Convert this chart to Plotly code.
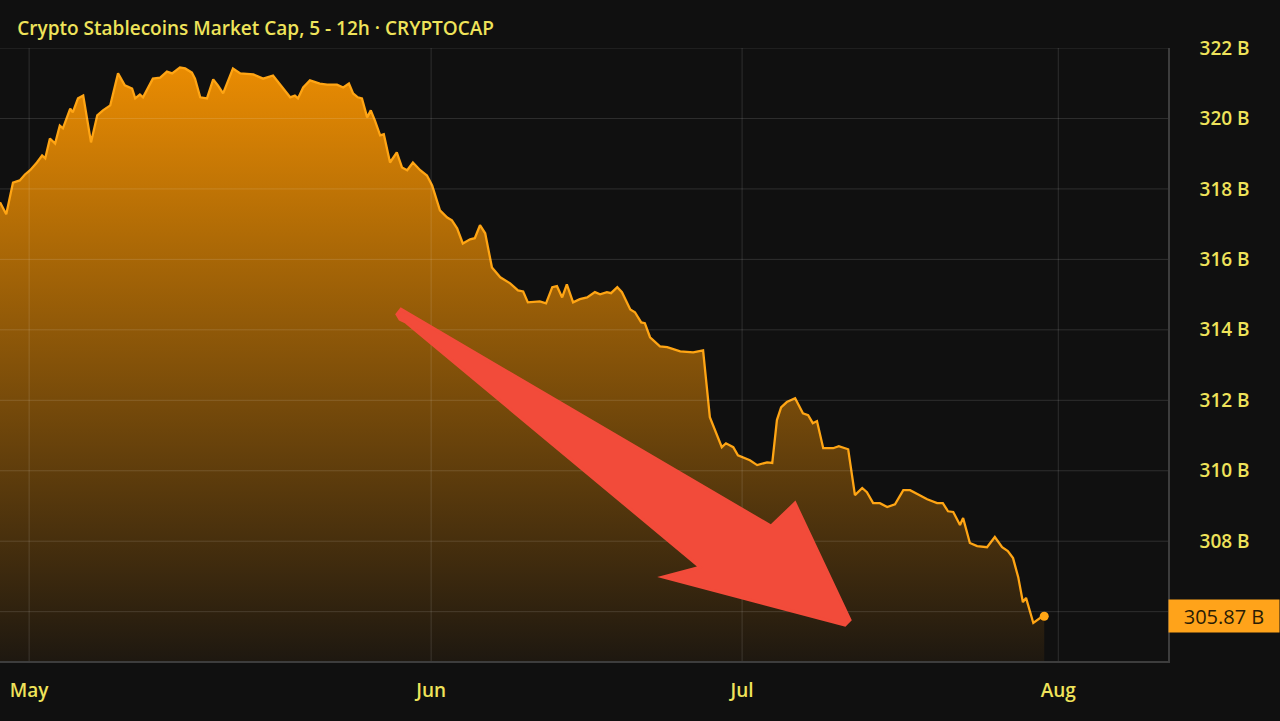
import plotly.graph_objects as go

# ---------------- data ----------------
bar_index = [0, 1.2, 2.5, 3.8, 4.8, 5.8, 7.1, 8.1, 8.7, 9.6,
             10.6, 11.5, 12.1, 13.5, 14.0, 15.0, 16.0, 16.3, 17.5, 18.7,
             19.8, 21.2, 22.7, 24.0, 25.4, 26.0, 26.9, 27.5, 29.4, 30.8,
             32.1, 33.1, 34.6, 35.6, 36.9, 37.5, 38.5, 39.8, 41.0, 41.9,
             42.9, 44.8, 46.2, 48.7, 50.6, 52.5, 54.4, 55.8, 56.7, 57.3,
             58.3, 59.6, 61.5, 62.9, 64.8, 66.0, 67.1, 67.9, 68.8, 69.6,
             70.6, 71.3, 72.1, 73.1, 73.8, 75.0, 76.3, 77.3, 78.3, 79.4,
             80.8, 82.1, 83.1, 84.6, 86.0, 86.9, 87.9, 89.0, 90.4, 91.3,
             92.3, 93.3, 94.6, 96.2, 98.1, 99.6, 100.6, 101.5, 103.8, 105.0,
             106.2, 107.1, 108.1, 109.0, 110.2, 111.5, 112.9, 114.4, 115.4, 116.7,
             117.5, 118.7, 119.6, 121.2, 122.1, 123.3, 124.0, 125.0, 126.9, 128.3,
             130.8, 133.3, 135.2, 135.6, 136.5, 138.8, 139.6, 141.0, 141.9, 144.2,
             145.6, 147.5, 148.5, 149.4, 150.2, 151.3, 152.9, 154.4, 155.4, 156.3,
             157.1, 158.3, 160.2, 161.3, 163.1, 164.4, 165.8, 166.7, 167.9, 169.2,
             170.6, 172.1, 173.7, 175.0, 176.5, 178.3, 180.2, 181.3, 182.3, 183.3,
             184.6, 185.2, 186.5, 187.9, 189.8, 191.3, 192.7, 193.8, 194.8, 195.8,
             196.7, 197.3, 198.7, 200.0, 200.8]

market_cap_b = [317.62, 317.28, 318.18, 318.24, 318.41, 318.53, 318.75, 318.95, 318.87, 319.43,
                319.29, 319.80, 319.72, 320.28, 320.17, 320.57, 320.65, 320.37, 319.32, 320.09,
                320.23, 320.37, 321.28, 320.94, 320.85, 320.57, 320.68, 320.60, 321.13, 321.16,
                321.33, 321.28, 321.45, 321.42, 321.30, 321.13, 320.60, 320.57, 321.11, 320.94,
                320.71, 321.42, 321.28, 321.25, 321.13, 321.22, 320.88, 320.60, 320.65, 320.57,
                320.88, 321.08, 320.99, 320.96, 320.96, 320.88, 320.99, 320.71, 320.60, 320.57,
                320.03, 320.23, 319.94, 319.52, 319.55, 318.75, 319.04, 318.61, 318.53, 318.75,
                318.53, 318.38, 318.10, 317.39, 317.19, 317.11, 316.88, 316.45, 316.57, 316.60,
                316.97, 316.74, 315.77, 315.49, 315.32, 315.12, 315.09, 314.78, 314.81, 314.75,
                315.21, 315.24, 314.92, 315.29, 314.78, 314.87, 314.92, 315.07, 315.01, 315.07,
                315.04, 315.21, 315.07, 314.58, 314.50, 314.21, 314.19, 313.79, 313.53, 313.51,
                313.39, 313.36, 313.42, 312.85, 311.52, 310.67, 310.78, 310.67, 310.44, 310.30,
                310.16, 310.24, 310.22, 311.44, 311.80, 311.95, 312.06, 311.63, 311.58, 311.35,
                311.41, 310.64, 310.64, 310.70, 310.61, 309.31, 309.51, 309.39, 309.08, 309.08,
                308.97, 309.05, 309.45, 309.45, 309.34, 309.19, 309.08, 309.08, 308.85, 308.83,
                308.46, 308.66, 307.95, 307.86, 307.83, 308.12, 307.83, 307.72, 307.52, 306.98,
                306.27, 306.39, 305.68, 305.82, 305.87]

month_labels = ["May", "Jun", "Jul", "Aug"]
month_bar_index = [5.6, 82.9, 142.7, 203.5]

y_grid_values = [306, 308, 310, 312, 314, 316, 318, 320, 322]
y_label_values = [308, 310, 312, 314, 316, 318, 320, 322]
y_label_texts = [f"{v} B" for v in y_label_values]

title_text = "Crypto Stablecoins Market Cap, 5 - 12h · CRYPTOCAP"

assert len(bar_index) == len(market_cap_b)

# ---------------- style ----------------
BG = "#101010"
YELLOW = "#EFE35A"
LINE = "#FFA514"
GRID = "rgba(255,255,255,0.13)"
AXLINE = "#3d3d3d"
FONT = "Open Sans"

X_RANGE = [0, 224.6]
Y_RANGE = [304.6, 322.0]

fig = go.Figure()

fig.add_trace(go.Scatter(
    x=bar_index, y=market_cap_b,
    mode="lines",
    line=dict(color=LINE, width=2.3),
    fill="tozeroy",
    fillgradient=dict(
        type="vertical",
        colorscale=[[0, "rgb(30,24,16)"], [1, "rgb(234,140,2)"]],
        start=Y_RANGE[0], stop=321.5,
    ),
    hoverinfo="skip",
    showlegend=False,
))

fig.add_trace(go.Scatter(
    x=[bar_index[-1]], y=[market_cap_b[-1]],
    mode="markers",
    marker=dict(color=LINE, size=9),
    hoverinfo="skip",
    showlegend=False,
))

shapes = []
for v in y_grid_values:
    shapes.append(dict(type="line", xref="x domain", yref="y", x0=0, x1=1, y0=v, y1=v,
                       line=dict(color=GRID, width=1), layer="above"))
for b in month_bar_index:
    shapes.append(dict(type="line", xref="x", yref="y domain", x0=b, x1=b, y0=0, y1=1,
                       line=dict(color=GRID, width=1), layer="above"))

# decorative red arrow (overlay, in paper fraction of the plotting area)
PLOT_W, PLOT_TOP, PLOT_BOTTOM = 1168.0, 47.5, 661.0
arrow_outline_px = [(401, 309), (397, 314), (400, 319), (406, 322), (700, 567), (663, 577),
                    (845, 625), (850, 620), (795, 503), (771, 526)]
def to_paper(p):
    return p[0] / PLOT_W, (PLOT_BOTTOM - p[1]) / (PLOT_BOTTOM - PLOT_TOP)
pts = [to_paper(p) for p in arrow_outline_px]
path = "M " + " L ".join(f"{x:.5f},{y:.5f}" for x, y in pts) + " Z"
shapes.append(dict(type="path", xref="paper", yref="paper", path=path,
                   fillcolor="#F24B3A", line=dict(color="#F24B3A", width=3), layer="above"))

fig.update_layout(
    width=1280, height=721,
    paper_bgcolor=BG, plot_bgcolor=BG,
    margin=dict(l=0, r=112, t=47.5, b=60),
    font=dict(family=FONT, color=YELLOW),
    title=dict(text=title_text, x=19 / 1280, xanchor="left", xref="paper",
               y=1 - 28 / 721, yanchor="middle", yref="container",
               font=dict(family=FONT, size=19, color=YELLOW, weight=600)),
    xaxis=dict(range=X_RANGE, showgrid=False, zeroline=False,
               tickvals=month_bar_index, ticktext=month_labels, ticks="",
               ticklabelstandoff=11,
               tickfont=dict(family=FONT, size=19, color=YELLOW, weight=600),
               showline=True, linecolor=AXLINE, linewidth=1.5),
    yaxis=dict(range=Y_RANGE, side="right", showgrid=False, zeroline=False,
               tickvals=y_label_values, ticktext=y_label_texts, ticks="",
               ticklabelstandoff=26,
               tickfont=dict(family=FONT, size=19, color=YELLOW, weight=600),
               showline=True, linecolor=AXLINE, linewidth=1.5),
    shapes=shapes,
    annotations=[dict(
        xref="paper", yref="y", x=1.0, y=market_cap_b[-1], xanchor="left", yanchor="middle",
        text=f"{market_cap_b[-1]:.2f} B", showarrow=False,
        font=dict(family=FONT, size=20, color="#2a1c05"),
        bgcolor="#FFA31A", width=104, height=26, borderpad=3, align="center",
    )],
    showlegend=False,
)

fig.write_html("out.html")
